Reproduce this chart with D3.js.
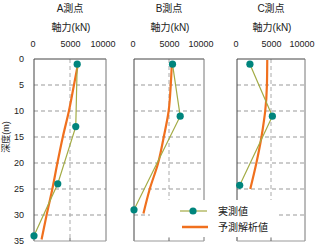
<!DOCTYPE html>
<html><head><meta charset="utf-8">
<script src="https://cdn.jsdelivr.net/npm/d3@7"></script>
<style>
html,body{margin:0;padding:0;background:#fff;}
svg{display:block;font-family:"Liberation Sans","Noto Sans CJK JP",sans-serif;}
</style></head>
<body>
<script>
// ---- data ----
const panelTitles = ["A測点", "B測点", "C測点"];
const axialTicks = [0, 5000, 10000];
const depthTicks = [0, 5, 10, 15, 20, 25, 30, 35];
const gridDepths = [5, 10, 15, 20, 25, 30];

const measuredDepthA = [1, 13, 24, 34];
const measuredForceA = [6000, 5800, 3300, 0];
const predictedDepthA = [1, 5, 10, 15, 20, 25, 30, 34.7];
const predictedForceA = [6100, 5550, 4850, 4000, 3250, 2550, 1750, 1050];

const measuredDepthB = [1, 11, 29];
const measuredForceB = [5500, 6600, 0];
const predictedDepthB = [1, 5, 10, 15, 20, 25, 29.7];
const predictedForceB = [5400, 5250, 4950, 4250, 3450, 2250, 1350];

const measuredDepthC = [1, 11, 24.3];
const measuredForceC = [1900, 5200, 400];
const predictedDepthC = [0.2, 5, 10, 12, 15, 20, 25];
const predictedForceC = [4450, 4400, 4150, 3950, 3600, 2850, 1950];

const legendLabels = ["実測値", "予測解析値"];
const axisTitle = "軸力(kN)";
const depthTitle = "深度(m)";

// ---- chart ----
const W = 316, H = 251;
const svg = d3.select("body").append("svg").attr("width", W).attr("height", H);

const xRanges = [[34, 106], [134, 204], [237, 305]];
const y = d3.scaleLinear().domain([0, 35]).range([59, 241]);

const measured = [
  measuredDepthA.map((d, i) => ({d, f: measuredForceA[i]})),
  measuredDepthB.map((d, i) => ({d, f: measuredForceB[i]})),
  measuredDepthC.map((d, i) => ({d, f: measuredForceC[i]}))
];
const predicted = [
  predictedDepthA.map((d, i) => ({d, f: predictedForceA[i]})),
  predictedDepthB.map((d, i) => ({d, f: predictedForceB[i]})),
  predictedDepthC.map((d, i) => ({d, f: predictedForceC[i]}))
];

const teal = "#00857d", olive = "#a3ab45", orange = "#f0701e";
const labelShift = [-1.5, 0, -3.5];

panelTitles.forEach((title, p) => {
  const x = d3.scaleLinear().domain([0, 10000]).range(xRanges[p]);
  const g = svg.append("g");
  const x0 = xRanges[p][0], x1 = xRanges[p][1];
  const cx = (x0 + x1) / 2;

  g.append("text").attr("x", cx).attr("y", 12).attr("text-anchor", "middle")
    .attr("font-size", 10).attr("fill", "#222").text(title);
  g.append("text").attr("x", cx + 1).attr("y", 31).attr("text-anchor", "middle")
    .attr("font-size", 10).attr("fill", "#222").text(axisTitle);

  // top axis labels
  const ax = d3.axisTop(x).tickValues(axialTicks).tickSize(0).tickPadding(0)
    .tickFormat(d3.format("d"));
  const axg = g.append("g").attr("transform", "translate(0,47)").call(ax);
  axg.select(".domain").remove();
  axg.selectAll("text").attr("font-size", 9).attr("fill", "#222")
    .attr("dy", 0).attr("dx", (d, i) => labelShift[i])
    .attr("font-family", "Liberation Sans, sans-serif");

  // gridlines
  g.selectAll(".hg").data(gridDepths).enter().append("line")
    .attr("x1", x0).attr("x2", x1).attr("y1", d => y(d)).attr("y2", d => y(d))
    .attr("stroke", "#999").attr("stroke-width", 1).attr("stroke-dasharray", "4,3");
  g.append("line").attr("x1", x(5000)).attr("x2", x(5000))
    .attr("y1", y(0)).attr("y2", y(35))
    .attr("stroke", "#aaa").attr("stroke-width", 1).attr("stroke-dasharray", "4,3");

  // frame
  g.append("line").attr("x1", x0).attr("x2", x1).attr("y1", y(0)).attr("y2", y(0))
    .attr("stroke", "#444");
  g.append("line").attr("x1", x0).attr("x2", x0).attr("y1", y(0)).attr("y2", y(35))
    .attr("stroke", "#444");
  g.append("line").attr("x1", x1).attr("x2", x1).attr("y1", y(0)).attr("y2", y(35))
    .attr("stroke", "#777");
  g.append("line").attr("x1", x0).attr("x2", x1).attr("y1", y(35)).attr("y2", y(35))
    .attr("stroke", "#999");
  g.append("line").attr("x1", x(5000)).attr("x2", x(5000)).attr("y1", y(35)).attr("y2", y(35) - 3)
    .attr("stroke", "#666");

  // y axis labels on first panel
  if (p === 0) {
    const ya = d3.axisLeft(y).tickValues(depthTicks).tickSize(0).tickPadding(0);
    const yg = g.append("g").attr("transform", "translate(24,0)").call(ya);
    yg.select(".domain").remove();
    yg.selectAll("text").attr("font-size", 9).attr("fill", "#222")
      .attr("font-family", "Liberation Sans, sans-serif");
    g.append("text").attr("transform", `translate(9,${137}) rotate(-90)`)
      .attr("text-anchor", "middle").attr("font-size", 9).attr("fill", "#222")
      .text(depthTitle);
  }

  // predicted line
  const line = d3.line().x(d => x(d.f)).y(d => y(d.d)).curve(d3.curveMonotoneY);
  g.append("path").datum(predicted[p]).attr("d", line)
    .attr("fill", "none").attr("stroke", orange).attr("stroke-width", 2.2);

  // measured
  const line2 = d3.line().x(d => x(d.f)).y(d => y(d.d));
  g.append("path").datum(measured[p]).attr("d", line2)
    .attr("fill", "none").attr("stroke", olive).attr("stroke-width", 1.2);
  g.selectAll(".pt").data(measured[p]).enter().append("circle")
    .attr("cx", d => x(d.f)).attr("cy", d => y(d.d)).attr("r", 3.6).attr("fill", teal);
});

// legend
const lg = svg.append("g");
lg.append("rect").attr("x", 150).attr("y", 200).attr("width", 128).attr("height", 37).attr("fill", "#fff");
lg.append("line").attr("x1", 180).attr("x2", 207).attr("y1", 211).attr("y2", 211)
  .attr("stroke", olive).attr("stroke-width", 1.2);
lg.append("circle").attr("cx", 193).attr("cy", 211).attr("r", 3.6).attr("fill", teal);
lg.append("line").attr("x1", 182).attr("x2", 208).attr("y1", 227).attr("y2", 227)
  .attr("stroke", orange).attr("stroke-width", 2.5);
legendLabels.forEach((t, i) => {
  lg.append("text").attr("x", 218).attr("y", 214.5 + i * 16).attr("font-size", 10)
    .attr("fill", "#222").text(t);
});
</script>
</body></html>
